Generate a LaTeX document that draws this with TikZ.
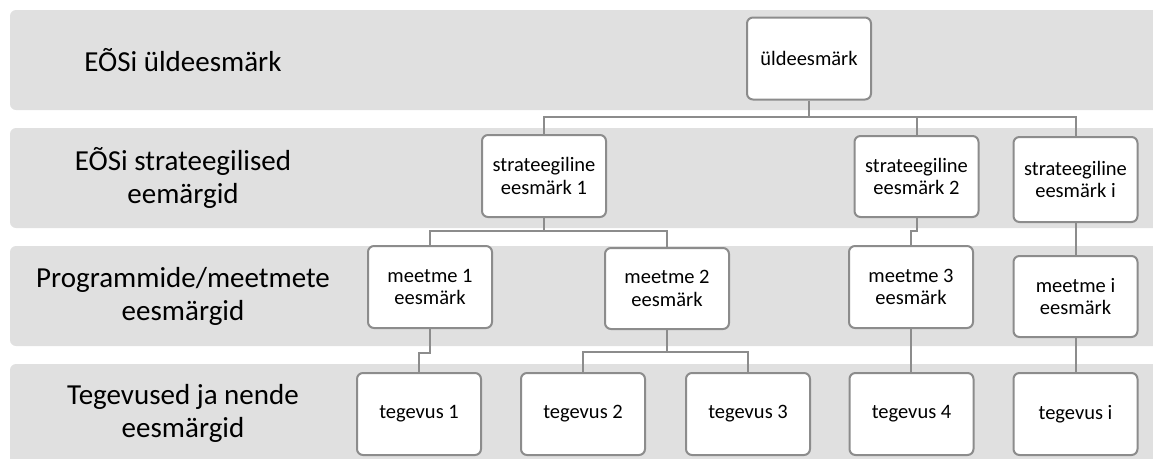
\documentclass[tikz,border=0pt]{standalone}
\usepackage{fontspec}
\setmainfont{Carlito}
\definecolor{bandgray}{RGB}{224,224,224}
\definecolor{linegray}{RGB}{140,140,140}
\begin{document}
\begin{tikzpicture}[x=1pt,y=-1pt,
  band/.style={fill=bandgray,rounded corners=6pt},
  bandlabel/.style={align=center,font=\fontsize{29}{33}\selectfont,inner sep=0pt},
  goalbox/.style={draw=linegray,line width=2pt,fill=white,rounded corners=6pt,
    minimum width=124pt,minimum height=82pt,align=center,inner sep=2pt,
    font=\fontsize{20.5}{22.7}\selectfont},
  conn/.style={draw=linegray,line width=2pt}]
\useasboundingbox (0,0) rectangle (1153,458);
\clip (0,0) rectangle (1153,458);
% bands
\fill[band] (10,10) rectangle (1170,110);
\fill[band] (10,128) rectangle (1170,228);
\fill[band] (10,246) rectangle (1170,346);
\fill[band] (10,364) rectangle (1170,475);
% band labels
\node[bandlabel] (l1) at (183,60) {EÕSi üldeesmärk};
\node[bandlabel] (l2) at (183,178) {EÕSi strateegilised\\eemärgid};
\node[bandlabel] (l3) at (183,296) {Programmide/meetmete\\eesmärgid};
\node[bandlabel] (l4) at (183,413) {Tegevused ja nende\\eesmärgid};
% boxes
\node[goalbox] (top) at (809,58.5) {üldeesmärk};
\node[goalbox] (s1) at (544,176) {strateegiline\\eesmärk 1};
\node[goalbox,minimum height=81pt] (s2) at (916.5,176.5) {strateegiline\\eesmärk 2};
\node[goalbox,minimum height=85pt] (si) at (1075.5,179.5) {strateegiline\\eesmärk i};
\node[goalbox] (m1) at (430,287) {meetme 1\\eesmärk};
\node[goalbox,minimum height=81pt] (m2) at (667,288.5) {meetme 2\\eesmärk};
\node[goalbox] (m3) at (911,287) {meetme 3\\eesmärk};
\node[goalbox,minimum height=81pt] (mi) at (1075.5,296.5) {meetme i\\eesmärk};
\node[goalbox] (t1) at (419,414) {tegevus 1};
\node[goalbox] (t2) at (583,414) {tegevus 2};
\node[goalbox] (t3) at (748,414) {tegevus 3};
\node[goalbox] (t4) at (911.5,414) {tegevus 4};
\node[goalbox] (ti) at (1075.5,414) {tegevus i};
% connectors
\coordinate (b0) at (809,117);
\draw[conn] (top.south) -- (b0) -| (s1.north);
\draw[conn] (b0) -| (s2.north);
\draw[conn] (b0) -| (si.north);
\coordinate (b1) at (544,231);
\draw[conn] (s1.south) -- (b1) -| (m1.north);
\draw[conn] (b1) -| (m2.north);
\coordinate (b2) at (916.5,231);
\draw[conn] (s2.south) -- (b2) -| (m3.north);
\draw[conn] (si.south) -- (mi.north);
\coordinate (b3) at (430,353);
\draw[conn] (m1.south) -- (b3) -| (t1.north);
\coordinate (b4) at (667,352);
\draw[conn] (m2.south) -- (b4) -| (t2.north);
\draw[conn] (b4) -| (t3.north);
\draw[conn] (m3.south) -- (t4.north -| m3.south);
\draw[conn] (mi.south) -- (ti.north);
\end{tikzpicture}
\end{document}
